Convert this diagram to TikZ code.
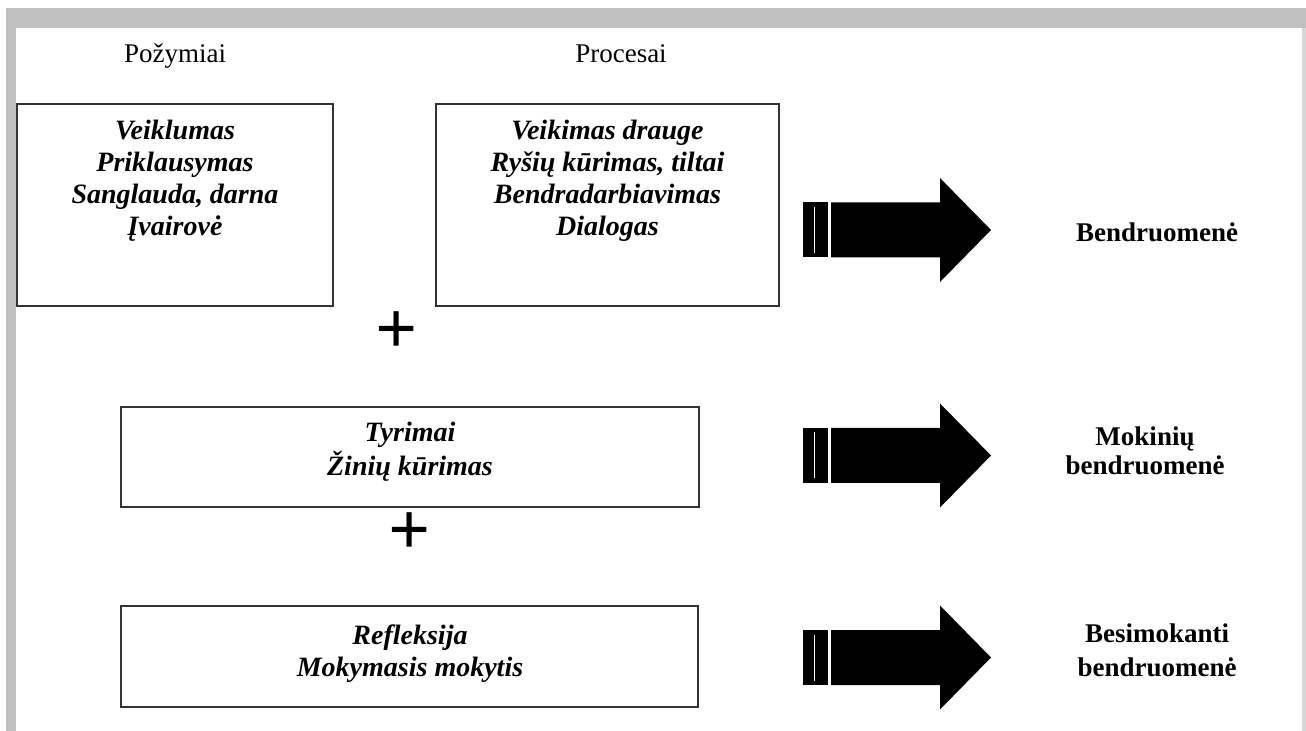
\documentclass[tikz,border=0pt]{standalone}
\usepackage{fontspec}
\setmainfont{Liberation Serif}
\definecolor{framegray}{HTML}{C0C0C0}
\definecolor{edgegray}{HTML}{D6D6D6}
\definecolor{boxline}{HTML}{333333}
\tikzset{
  boxst/.style={draw=boxline, line width=1.1pt, inner sep=0pt, fill=white},
  itxt/.style={font=\fontsize{14}{16}\selectfont\bfseries\itshape, align=center, inner sep=0pt},
  headtxt/.style={font=\fontsize{13.5}{16}\selectfont, inner sep=0pt, anchor=base},
  lbl/.style={font=\fontsize{13.5}{15}\selectfont\bfseries, align=center, inner sep=0pt},
  plussign/.style={font=\fontsize{37}{40}\selectfont\bfseries, inner sep=0pt},
  bigarrow/.pic={
    \fill[black] (0,-27.5) rectangle (25,27.5);
    \fill[white] (10.5,-23) rectangle (12,23);
    \fill[black] (28,-27.5) -- (137,-27.5) -- (137,-52) -- (188,0) -- (137,52) -- (137,27.5) -- (28,27.5) -- cycle;
  }
}
\begin{document}
\begin{tikzpicture}[x=0.5pt,y=-0.5pt]
\useasboundingbox (0,0) rectangle (1306,731);
% frame
\fill[framegray] (6,8) rectangle (1306,28);
\fill[framegray] (6,8) rectangle (16,731);
\fill[edgegray] (1302,28) rectangle (1306,731);

% headings
\node[headtxt] (hpoz) at (175,63) {Požymiai};
\node[headtxt] (hproc) at (621,63) {Procesai};

% boxes
\node[boxst, minimum width=158pt, minimum height=101pt] (b1) at (175,205) {};
\node[boxst, minimum width=171.5pt, minimum height=101pt] (b2) at (607.5,205) {};
\node[boxst, minimum width=289pt, minimum height=50pt] (b3) at (410,457) {};
\node[boxst, minimum width=288.5pt, minimum height=50.5pt] (b4) at (409.5,656.5) {};

% box texts
\node[itxt] (t1) at (175,181) {Veiklumas\\Priklausymas\\Sanglauda, darna\\Įvairovė};
\node[itxt] (t2) at (607.5,181) {Veikimas drauge\\Ryšių kūrimas, tiltai\\Bendradarbiavimas\\Dialogas};
\node[itxt, font=\fontsize{14}{17}\selectfont\bfseries\itshape] (t3) at (410,452) {Tyrimai\\Žinių kūrimas};
\node[itxt] (t4) at (410,654) {Refleksija\\Mokymasis mokytis};

% plus signs
\node[plussign] (p1) at (397,333) {+};
\node[plussign] (p2) at (410,534) {+};

% arrows
\pic (a1) at (803,230) {bigarrow};
\pic (a2) at (803,455.5) {bigarrow};
\pic (a3) at (803,657.5) {bigarrow};

% result labels
\node[lbl] (r1) at (1157,232) {Bendruomenė};
\node[lbl, font=\fontsize{13.5}{14.5}\selectfont\bfseries] (r2) at (1145,451) {Mokinių\\bendruomenė};
\node[lbl, font=\fontsize{13.5}{17}\selectfont\bfseries] (r3) at (1157,650) {Besimokanti\\bendruomenė};
\end{tikzpicture}
\end{document}
